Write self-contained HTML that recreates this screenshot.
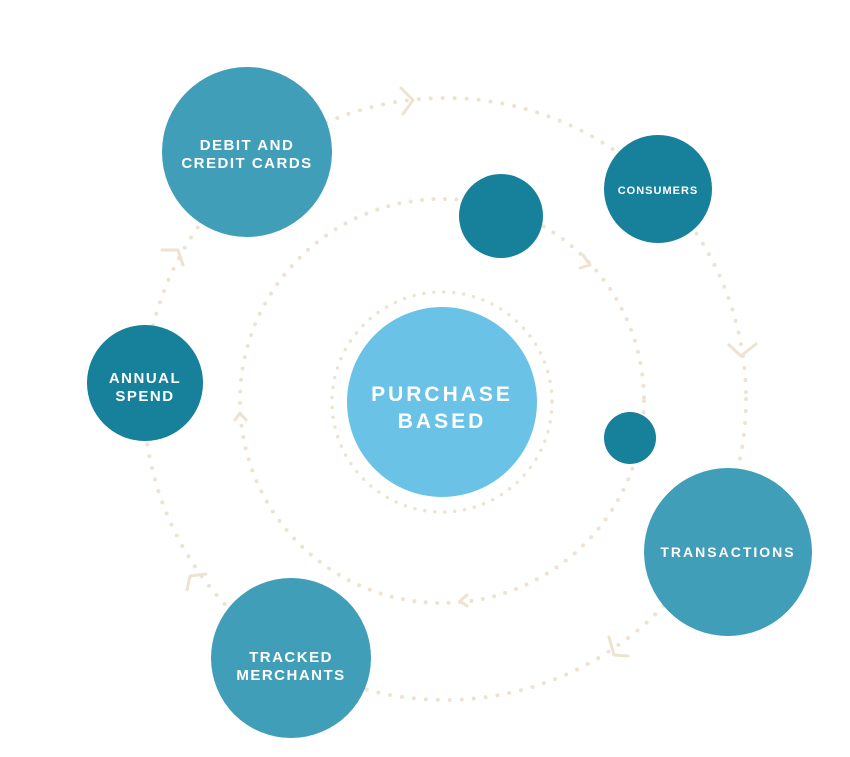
<!DOCTYPE html>
<html><head><meta charset="utf-8"><style>
html,body{margin:0;padding:0;background:#fff;width:850px;height:757px;overflow:hidden}
svg{display:block}
text{font-family:"Liberation Sans",sans-serif;font-weight:bold;fill:#fff;text-anchor:middle}
</style></head><body>
<svg width="850" height="757" viewBox="0 0 850 757">
<g fill="none" stroke="#ede3d0" stroke-linecap="round">
<circle cx="445" cy="399" r="301" stroke-width="4" stroke-dasharray="0 12"/>
<circle cx="442" cy="401" r="202" stroke-width="4" stroke-dasharray="0 11.5"/>
<circle cx="442" cy="402" r="110" stroke-width="3.5" stroke-dasharray="0 10"/>
</g>
<g fill="none" stroke="#ede3d0" stroke-width="3" stroke-linecap="round" stroke-linejoin="round">
<polyline points="401,88 413,100 403,114"/>
<polyline points="729,345 741,356 756,344"/>
<polyline points="609,637 614,655 628,656"/>
<polyline points="206,574 190,576 187,590"/>
<polyline points="162,250 178,250 183,265"/>
<polyline points="583,255 590,265 580,268"/>
<polyline points="467,595 460,601 467,606"/>
<polyline points="235,420 240,413 246,420"/>
</g>
<circle cx="247" cy="152" r="85" fill="#419eb8"/>
<circle cx="658" cy="189" r="54" fill="#17809a"/>
<circle cx="501" cy="216" r="42" fill="#17809a"/>
<circle cx="145" cy="383" r="58" fill="#17809a"/>
<circle cx="442" cy="402" r="95" fill="#6ac3e6"/>
<circle cx="630" cy="438" r="26" fill="#17809a"/>
<circle cx="728" cy="552" r="84" fill="#419eb8"/>
<circle cx="291" cy="658" r="80" fill="#419eb8"/>
<g font-size="15" letter-spacing="1.5">
<text x="247" y="150">DEBIT AND</text>
<text x="247" y="168">CREDIT CARDS</text>
<text x="145" y="383">ANNUAL</text>
<text x="145" y="401">SPEND</text>
<text x="728" y="557" font-size="14" letter-spacing="2">TRANSACTIONS</text>
<text x="291" y="662">TRACKED</text>
<text x="291" y="680">MERCHANTS</text>
</g>
<text x="658" y="194" font-size="11" letter-spacing="1">CONSUMERS</text>
<text x="442" y="401" font-size="21" letter-spacing="3">PURCHASE</text>
<text x="442" y="428" font-size="21" letter-spacing="3">BASED</text>
</svg>
</body></html>
